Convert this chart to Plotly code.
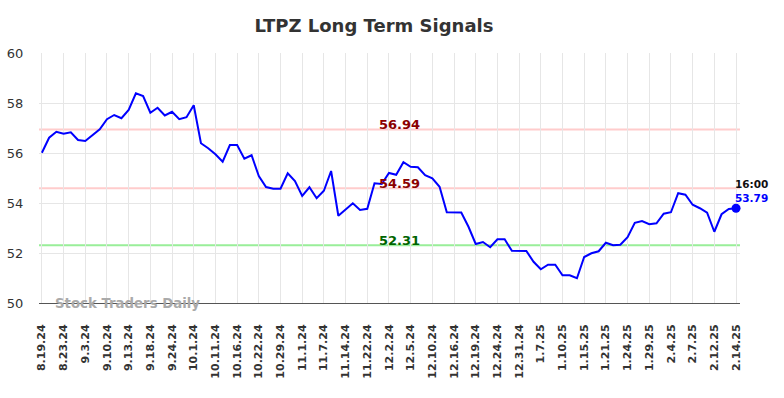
import plotly.graph_objects as go

tick_labels = ["8.19.24", "8.23.24", "9.3.24", "9.10.24", "9.13.24", "9.18.24", "9.24.24",
               "10.1.24", "10.11.24", "10.16.24", "10.22.24", "10.29.24", "11.1.24", "11.7.24",
               "11.14.24", "11.22.24", "12.2.24", "12.5.24", "12.10.24", "12.16.24", "12.19.24",
               "12.24.24", "12.31.24", "1.7.25", "1.10.25", "1.15.25", "1.21.25", "1.24.25",
               "1.29.25", "2.4.25", "2.7.25", "2.12.25", "2.14.25"]

values = [56.01, 56.61, 56.85, 56.77, 56.83, 56.52, 56.48, 56.72, 56.95, 57.35,
          57.52, 57.39, 57.72, 58.39, 58.28, 57.61, 57.81, 57.50, 57.65, 57.35,
          57.43, 57.91, 56.39, 56.19, 55.95, 55.65, 56.32, 56.32, 55.77, 55.91,
          55.08, 54.64, 54.57, 54.57, 55.19, 54.88, 54.28, 54.63, 54.19, 54.49,
          55.28, 53.49, 53.75, 53.99, 53.72, 53.77, 54.79, 54.76, 55.20, 55.13,
          55.63, 55.45, 55.43, 55.11, 54.99, 54.65, 53.63, 53.62, 53.62, 53.05,
          52.36, 52.44, 52.23, 52.55, 52.55, 52.09, 52.08, 52.08, 51.65, 51.35,
          51.53, 51.53, 51.11, 51.11, 50.99, 51.84, 51.99, 52.07, 52.41, 52.31,
          52.33, 52.63, 53.21, 53.28, 53.15, 53.19, 53.57, 53.63, 54.39, 54.33,
          53.93, 53.79, 53.61, 52.85, 53.55, 53.76, 53.79]

levels = [56.94, 54.59, 52.31]
level_line_colors = ["#ffcccc", "#ffcccc", "#99ee99"]
level_text_colors = ["#8b0000", "#8b0000", "#006400"]

last_time = "16:00"
tick_step = 3

x = list(range(len(values)))
tickvals = [i * tick_step for i in range(len(tick_labels))]

fig = go.Figure()

for lv, lc in zip(levels, level_line_colors):
    fig.add_shape(type="line", xref="paper", x0=0, x1=1, y0=lv, y1=lv,
                  line=dict(color=lc, width=2), layer="below")

fig.add_trace(go.Scatter(x=x, y=values, mode="lines",
                         line=dict(color="#0000ff", width=2), hoverinfo="skip",
                         showlegend=False))
fig.add_trace(go.Scatter(x=[x[-1]], y=[values[-1]], mode="markers",
                         marker=dict(color="#0000ff", size=9), showlegend=False,
                         cliponaxis=False, hoverinfo="skip"))

mid_x = 49.4
for lv, tc in zip(levels, level_text_colors):
    fig.add_annotation(x=mid_x, y=lv, text=f"{lv:.2f}", showarrow=False,
                       yanchor="middle", yshift=5,
                       font=dict(family="DejaVu Sans", size=13, color=tc, weight="bold"))

fig.add_annotation(x=x[-1], y=values[-1], text=last_time, showarrow=False,
                   xanchor="left", yanchor="middle", xshift=-3, yshift=24,
                   font=dict(family="DejaVu Sans", size=10.5, color="#111111", weight="bold"))
fig.add_annotation(x=x[-1], y=values[-1], text=f"{values[-1]:.2f}", showarrow=False,
                   xanchor="left", yanchor="middle", xshift=-3, yshift=10,
                   font=dict(family="DejaVu Sans", size=10.5, color="#0000ff", weight="bold"))

fig.add_annotation(xref="paper", yref="paper", x=0.02, y=0.0, text="Stock Traders Daily",
                   showarrow=False, xanchor="left", yanchor="middle",
                   font=dict(family="DejaVu Sans", size=13.3, color="#aaaaaa", weight="bold"))

fig.update_layout(
    width=784, height=398,
    margin=dict(l=39, r=44, t=53, b=95, autoexpand=False),
    paper_bgcolor="white", plot_bgcolor="white",
    hovermode=False,
    title=dict(text="LTPZ Long Term Signals", x=0.477, xanchor="center", y=0.935, yanchor="middle",
               yref="container",
               font=dict(family="DejaVu Sans", size=18, color="#333333", weight="bold")),
    xaxis=dict(range=[-0.4, 96.55], tickvals=tickvals, ticktext=tick_labels,
               tickangle=-90, showgrid=True, gridcolor="#e6e6e6", gridwidth=1,
               zeroline=False, showline=True, linecolor="#555555", linewidth=1,
               automargin=False, ticks="outside", ticklen=16, tickcolor="rgba(0,0,0,0)",
               tickfont=dict(family="DejaVu Sans", size=11, color="#333333", weight="bold")),
    yaxis=dict(range=[50, 60], dtick=2, showgrid=True, gridcolor="#e6e6e6", gridwidth=1,
               zeroline=False, showline=False, automargin=False,
               ticks="outside", ticklen=12, tickcolor="rgba(0,0,0,0)",
               tickfont=dict(family="DejaVu Sans", size=13, color="#333333")),
    showlegend=False,
)

fig.write_html("out.html", config={"displayModeBar": False},
               post_script="document.body.style.margin='0';document.body.style.overflow='hidden';")
